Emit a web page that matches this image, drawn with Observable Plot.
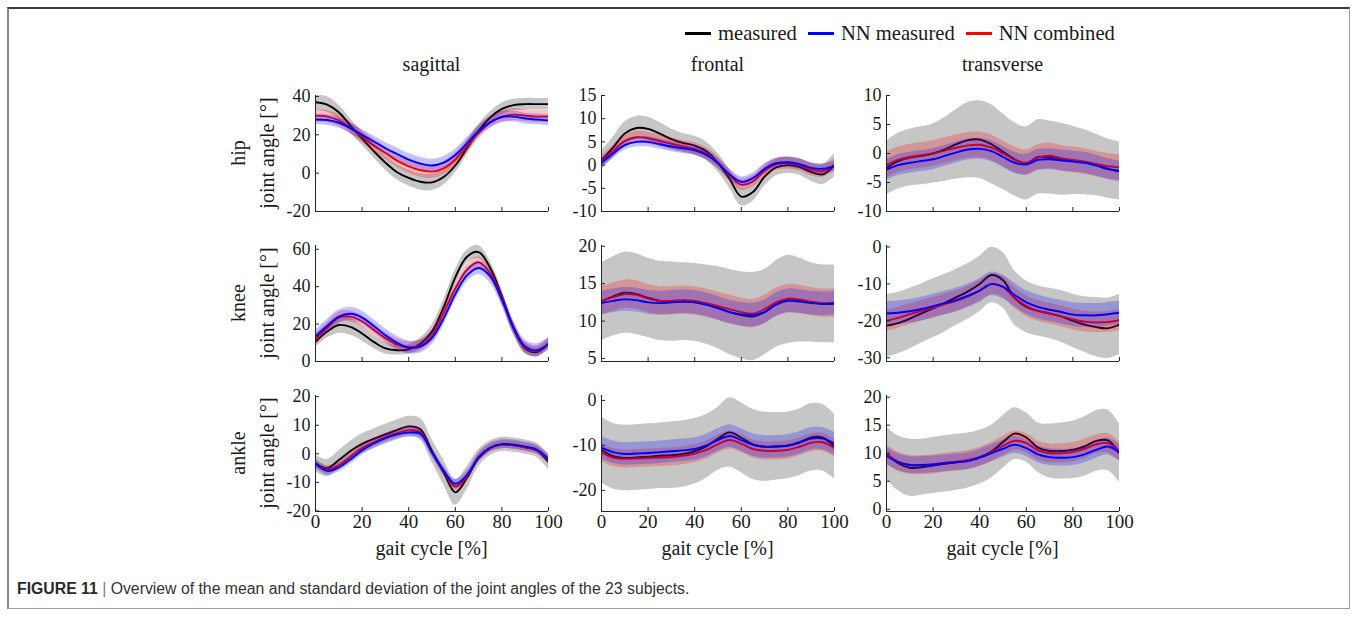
<!DOCTYPE html>
<html>
<head>
<meta charset="utf-8">
<script src="https://cdn.jsdelivr.net/npm/d3@7"></script>
<script src="https://cdn.jsdelivr.net/npm/@observablehq/plot@0.6"></script>
<style>
  body { margin: 0; background: #fff; }
  #fig { position: relative; width: 1358px; height: 625px; overflow: hidden; font-family: "Liberation Serif", serif; color: #1a1a1a; }
  .frame { position: absolute; left: 7px; top: 7px; width: 1343px; height: 602px; box-sizing: border-box;
           border: 1px solid #a0a0a0; border-left: 2px solid #8a8a8a; border-top: 2px solid #3a3a3a; }
  .lbl { position: absolute; font-size: 20px; white-space: nowrap; transform: translate(-50%, -50%); line-height: 1; }
  .rot { transform: translate(-50%, -50%) rotate(-90deg); }
  .panel { position: absolute; }
  .legend { position: absolute; top: 22px; left: 685px; height: 22px; display: flex; align-items: center; font-size: 20.6px; white-space: nowrap; }
  .legend .sw { display: inline-block; width: 26px; height: 3px; margin-right: 7px; }
  .legend .it { display: flex; align-items: center; margin-right: 11px; }
  .caption { position: absolute; left: 17px; top: 580px; font-family: "Liberation Sans", Arial, sans-serif; font-size: 15.8px; color: #333; white-space: nowrap; }
  .caption b { color: #2a2a2a; }
  .caption .bar { color: #777; }
</style>
</head>
<body>
<div id="fig">
  <div class="frame"></div>
</div>
<script>
// Gait cycle sample points [%]
const gaitCycle = [0, 5, 10, 15, 20, 25, 30, 35, 40, 45, 50, 55, 60, 65, 70, 75, 80, 85, 90, 95, 100];

const planes = ["sagittal", "frontal", "transverse"];
const joints = ["hip", "knee", "ankle"];
const seriesNames = ["measured", "NN measured", "NN combined"];
const seriesColors = ["#000000", "#0000ff", "#ff0000"];
const xTicks = [0, 20, 40, 60, 80, 100];

// Hip, sagittal
const hipSagMeasured     = [37, 35.8, 31.8, 24.8, 18, 11.5, 5.5, 0.5, -2.5, -4.5, -4.8, -2, 4, 13, 22, 29, 33.5, 35.5, 36, 36, 36];
const hipSagMeasuredSd   = [4, 4, 3.8, 3.6, 3.5, 3.5, 3.8, 4, 4.2, 4.3, 4.3, 4.2, 3.8, 3.5, 3.2, 3, 3, 3, 3, 3, 3];
const hipSagNNMeasured   = [28, 27.7, 26.3, 23.5, 20, 16.5, 13, 10, 7, 5, 4, 5.5, 9.5, 15.5, 22, 26.5, 29.3, 29.5, 28.5, 28, 27.5];
const hipSagNNMeasuredSd = [2.8, 2.8, 2.8, 2.8, 2.8, 2.9, 3, 3.1, 3.2, 3.3, 3.3, 3.2, 3, 2.9, 2.8, 2.8, 2.8, 2.8, 2.8, 2.8, 2.8];
const hipSagNNCombined   = [30, 29.5, 27.5, 23.5, 19, 14.5, 10.5, 6.5, 3.5, 1.5, 0.8, 2.5, 7, 14, 21, 26.5, 29.5, 30.5, 30, 29.5, 29.5];
const hipSagNNCombinedSd = [3.2, 3.2, 3.2, 3.2, 3.2, 3.3, 3.4, 3.5, 3.5, 3.6, 3.6, 3.5, 3.4, 3.3, 3.2, 3.2, 3.2, 3.2, 3.2, 3.2, 3.2];
const hipSagTicks = [-20, 0, 20, 40];

// Hip, frontal
const hipFroMeasured     = [1, 3.8, 6.8, 8, 7.8, 6.8, 5.6, 4.8, 4.2, 3, 0.5, -3, -6.8, -5.8, -2.5, -0.5, 0, -0.4, -1.5, -2, 0];
const hipFroMeasuredSd   = [2, 2.2, 2.5, 2.5, 2.5, 2.4, 2.2, 2, 2, 2, 2, 2, 2, 2, 2, 1.8, 1.8, 1.8, 2, 2.2, 2.5];
const hipFroNNMeasured   = [0.5, 2.5, 4.3, 5, 5, 4.5, 4, 3.6, 3.2, 2.2, 0.4, -2, -3.6, -2.8, -0.8, 0.4, 0.6, 0.2, -0.6, -0.8, -0.2];
const hipFroNNMeasuredSd = [1.1, 1.1, 1.1, 1.1, 1.1, 1.1, 1.1, 1.1, 1.1, 1.1, 1.1, 1.1, 1.1, 1.1, 1.1, 1.1, 1.1, 1.1, 1.1, 1.1, 1.1];
const hipFroNNCombined   = [0.8, 3, 5.2, 6, 5.8, 5.2, 4.6, 4, 3.5, 2.5, 0.5, -2.2, -4.2, -3.5, -1.2, 0.2, 0.4, 0, -1, -1.3, 0];
const hipFroNNCombinedSd = [1.3, 1.3, 1.3, 1.3, 1.3, 1.3, 1.3, 1.3, 1.3, 1.3, 1.3, 1.3, 1.3, 1.3, 1.3, 1.3, 1.3, 1.3, 1.3, 1.3, 1.3];
const hipFroTicks = [-10, -5, 0, 5, 10, 15];

// Hip, transverse
const hipTraMeasured     = [-2.5, -1.3, -0.7, -0.4, 0, 0.7, 1.6, 2.3, 2.4, 1.6, 0.3, -1, -1.7, -0.6, -0.7, -1, -1.2, -1.5, -2, -2.6, -3];
const hipTraMeasuredSd   = [4.6, 4.8, 4.9, 5, 5.1, 5.5, 6, 6.5, 6.7, 6.8, 6.5, 6.3, 6.3, 6.4, 6.3, 6.2, 5.9, 5.6, 5.3, 5.1, 5];
const hipTraNNMeasured   = [-2.8, -2, -1.6, -1.3, -1, -0.4, 0.2, 0.7, 0.8, 0.4, -0.6, -1.6, -1.9, -1.1, -1, -1.2, -1.4, -1.6, -2.1, -2.7, -3.1];
const hipTraNNMeasuredSd = [1.8, 1.8, 1.8, 1.8, 1.8, 1.8, 1.8, 1.8, 1.8, 1.8, 1.8, 1.8, 1.8, 1.8, 1.8, 1.8, 1.8, 1.8, 1.8, 1.8, 1.8];
const hipTraNNCombined   = [-2, -1.1, -0.6, -0.3, 0, 0.5, 1, 1.4, 1.5, 1, 0, -1.1, -1.6, -0.7, -0.4, -0.8, -1.1, -1.4, -1.8, -2.2, -2.4];
const hipTraNNCombinedSd = [2.2, 2.2, 2.2, 2.2, 2.2, 2.2, 2.2, 2.2, 2.2, 2.2, 2.2, 2.2, 2.2, 2.2, 2.2, 2.2, 2.2, 2.2, 2.2, 2.2, 2.2];
const hipTraTicks = [-10, -5, 0, 5, 10];

// Knee, sagittal
const kneeSagMeasured     = [10.5, 16, 19.5, 18.5, 15, 10.5, 7, 6, 6.5, 9.5, 16, 29, 45, 56, 58.5, 50, 35, 18, 7, 5, 9.5];
const kneeSagMeasuredSd   = [3, 3.5, 4.5, 4.5, 4, 3.5, 3, 2.5, 2.5, 3, 3.5, 4, 4, 3.5, 3.5, 3.5, 3.5, 3.5, 3, 2.5, 2.5];
const kneeSagNNMeasured   = [13.5, 19, 24, 25.5, 23.5, 19, 14, 10, 7.5, 8, 12.5, 23, 36, 46, 50, 45.5, 33, 18, 8, 6, 9.5];
const kneeSagNNMeasuredSd = [3.5, 3.5, 3.5, 3.5, 3.5, 3.5, 3.5, 3.5, 3.5, 3.5, 3.5, 3.5, 3.5, 3.5, 3.5, 3.5, 3.5, 3.5, 3.5, 3.5, 3.5];
const kneeSagNNCombined   = [12, 18, 23.5, 24, 21.5, 17, 12.5, 9, 7.5, 8.5, 14, 26, 39, 49, 53, 47, 34, 18, 7.5, 5.5, 9.5];
const kneeSagNNCombinedSd = [3, 3, 3, 3, 3, 3, 3, 3, 3, 3, 3, 3, 3, 3, 3, 3, 3, 3, 3, 3, 3];
const kneeSagTicks = [0, 20, 40, 60];

// Knee, frontal
const kneeFroMeasured     = [12.6, 13.3, 13.8, 13.6, 13.1, 12.7, 12.6, 12.6, 12.5, 12.2, 11.8, 11.2, 10.8, 10.6, 11.2, 12.3, 12.9, 12.8, 12.5, 12.3, 12.3];
const kneeFroMeasuredSd   = [5.2, 5.3, 5.4, 5.4, 5.3, 5.3, 5.3, 5.2, 5.2, 5.3, 5.5, 5.7, 5.8, 5.9, 5.7, 5.8, 5.9, 5.6, 5.3, 5.2, 5.2];
const kneeFroNNMeasured   = [12.4, 12.7, 12.9, 12.8, 12.5, 12.4, 12.5, 12.6, 12.5, 12.2, 11.7, 11.2, 10.9, 10.8, 11.2, 12.2, 12.7, 12.6, 12.4, 12.3, 12.4];
const kneeFroNNMeasuredSd = [1.6, 1.6, 1.6, 1.6, 1.6, 1.6, 1.6, 1.6, 1.6, 1.6, 1.6, 1.6, 1.6, 1.6, 1.6, 1.6, 1.6, 1.6, 1.6, 1.6, 1.6];
const kneeFroNNCombined   = [12.7, 13.2, 13.6, 13.5, 13, 12.7, 12.7, 12.8, 12.7, 12.4, 12, 11.6, 11.2, 11, 11.6, 12.5, 13, 12.9, 12.6, 12.4, 12.4];
const kneeFroNNCombinedSd = [1.9, 1.9, 1.9, 1.9, 1.9, 1.9, 1.9, 1.9, 1.9, 1.9, 1.9, 1.9, 1.9, 1.9, 1.9, 1.9, 1.9, 1.9, 1.9, 1.9, 1.9];
const kneeFroTicks = [5, 10, 15, 20];

// Knee, transverse
const kneeTraMeasured     = [-21.3, -20.6, -19.4, -18, -16.6, -15.2, -13.6, -12, -10, -7.6, -9, -13.8, -16.2, -17.3, -18, -18.8, -20, -21, -21.7, -22, -21];
const kneeTraMeasuredSd   = [8.5, 8.3, 8.2, 8, 8, 7.8, 7.6, 7.5, 7.5, 7.5, 7.5, 7.3, 7, 6.8, 6.8, 7, 7.2, 7.5, 8, 8.2, 8.2];
const kneeTraNNMeasured   = [-18, -17.8, -17.4, -16.8, -16, -15.2, -14.3, -13.2, -11.8, -10, -10.8, -13, -15, -16.2, -17, -17.6, -18.3, -18.5, -18.5, -18.2, -17.8];
const kneeTraNNMeasuredSd = [3.2, 3.2, 3.2, 3.2, 3.2, 3.2, 3.2, 3.2, 3.2, 3.2, 3.2, 3.2, 3.2, 3.2, 3.2, 3.2, 3.2, 3.2, 3.2, 3.2, 3.2];
const kneeTraNNCombined   = [-20, -19.2, -18.2, -17.3, -16.4, -15.5, -14.6, -13.4, -11.8, -10.1, -10.8, -13.8, -16, -17.3, -18, -18.8, -19.6, -20.2, -20.4, -20.3, -19.8];
const kneeTraNNCombinedSd = [2.8, 2.8, 2.8, 2.8, 2.8, 2.8, 2.8, 2.8, 2.8, 2.8, 2.8, 2.8, 2.8, 2.8, 2.8, 2.8, 2.8, 2.8, 2.8, 2.8, 2.8];
const kneeTraTicks = [-30, -20, -10, 0];

// Ankle, sagittal
const ankleSagMeasured     = [-3.3, -5, -2.2, 1, 3.5, 5.2, 6.8, 8.3, 9.6, 8.6, 1, -6.5, -13.5, -8.5, -1.5, 2, 3.3, 3, 2.3, 1.2, -2.8];
const ankleSagMeasuredSd   = [3, 3, 3.2, 3.4, 3.5, 3.5, 3.5, 3.5, 3.5, 3.8, 4, 4.3, 4.5, 4, 3, 2.6, 2.5, 2.5, 2.5, 2.5, 2.8];
const ankleSagNNMeasured   = [-3.5, -6, -4.8, -2, 1.2, 3.6, 5.5, 6.8, 7.4, 7, 0.5, -6, -10.5, -7.5, -1.2, 2.2, 3.4, 3.2, 2.5, 1.5, -1.8];
const ankleSagNNMeasuredSd = [1.6, 1.6, 1.6, 1.6, 1.6, 1.6, 1.6, 1.6, 1.6, 1.6, 1.6, 1.6, 1.6, 1.6, 1.6, 1.6, 1.6, 1.6, 1.6, 1.6, 1.6];
const ankleSagNNCombined   = [-3.5, -5.5, -4, -1, 2, 4, 5.8, 7.2, 8.2, 7.5, 0.5, -6, -11.5, -8, -1.5, 2, 3.2, 3, 2.3, 1.3, -2];
const ankleSagNNCombinedSd = [1.4, 1.4, 1.4, 1.4, 1.4, 1.4, 1.4, 1.4, 1.4, 1.4, 1.4, 1.4, 1.4, 1.4, 1.4, 1.4, 1.4, 1.4, 1.4, 1.4, 1.4];
const ankleSagTicks = [-20, -10, 0, 10, 20];

// Ankle, frontal
const ankleFroMeasured     = [-11, -12.4, -12.8, -12.7, -12.5, -12.3, -12.2, -11.9, -11.3, -10.2, -8.5, -7.1, -8.3, -9.8, -10.3, -10.2, -10, -9.3, -8.2, -8.3, -10.3];
const ankleFroMeasuredSd   = [7.3, 7.3, 7.3, 7.3, 7.3, 7.3, 7.4, 7.4, 7.3, 7.1, 7, 7.7, 7.8, 7.8, 7.7, 7.5, 7.4, 7.4, 7.5, 7.4, 7.2];
const ankleFroNNMeasured   = [-10.5, -11.5, -11.9, -11.8, -11.7, -11.5, -11.3, -11.1, -10.8, -10, -8.8, -7.9, -8.8, -9.9, -10.3, -10.3, -10.1, -9.4, -8.5, -8.5, -9.6];
const ankleFroNNMeasuredSd = [2.5, 2.5, 2.5, 2.5, 2.5, 2.5, 2.5, 2.5, 2.5, 2.5, 2.5, 2.5, 2.5, 2.5, 2.5, 2.5, 2.5, 2.5, 2.5, 2.5, 2.5];
const ankleFroNNCombined   = [-11.6, -12.7, -13, -12.9, -12.8, -12.7, -12.6, -12.3, -11.8, -11, -9.7, -8.8, -9.6, -10.8, -11.2, -11.2, -11, -10.3, -9.4, -9.3, -10.6];
const ankleFroNNCombinedSd = [2, 2, 2, 2, 2, 2, 2, 2, 2, 2, 2, 2, 2, 2, 2, 2, 2, 2, 2, 2, 2];
const ankleFroTicks = [-20, -10, 0];

// Ankle, transverse
const ankleTraMeasured     = [10, 8.2, 7.4, 7.5, 7.8, 8.1, 8.4, 8.7, 9.3, 10.3, 12, 13.5, 12.8, 11, 10.4, 10.4, 10.6, 11.2, 12.2, 12.3, 10];
const ankleTraMeasuredSd   = [4.7, 4.9, 5.1, 5, 5, 5, 5, 4.9, 4.8, 4.7, 4.7, 4.6, 4.4, 4.4, 4.8, 5, 5.1, 5.3, 5.4, 5.4, 5.2];
const ankleTraNNMeasured   = [9.5, 8.4, 7.9, 7.9, 8, 8.2, 8.4, 8.6, 9.2, 10, 10.8, 11.5, 10.9, 9.8, 9.3, 9.2, 9.3, 9.8, 10.6, 11.2, 10.1];
const ankleTraNNMeasuredSd = [1.5, 1.5, 1.5, 1.5, 1.5, 1.5, 1.5, 1.5, 1.5, 1.5, 1.5, 1.5, 1.5, 1.5, 1.5, 1.5, 1.5, 1.5, 1.5, 1.5, 1.5];
const ankleTraNNCombined   = [9.8, 8.5, 7.9, 7.9, 8, 8.3, 8.5, 8.8, 9.3, 10.2, 11.3, 12.2, 11.8, 10.5, 10, 10, 10.2, 10.8, 11.6, 11.8, 10.3];
const ankleTraNNCombinedSd = [1.7, 1.7, 1.7, 1.7, 1.7, 1.7, 1.7, 1.7, 1.7, 1.7, 1.7, 1.7, 1.7, 1.7, 1.7, 1.7, 1.7, 1.7, 1.7, 1.7, 1.7];
const ankleTraTicks = [0, 5, 10, 15, 20];

// Panel grid: [row, col, series (mean, sd) in draw order measured / NN combined / NN measured, y domain, y ticks]
const panelSpecs = [
  [0, 0, [[hipSagMeasured, hipSagMeasuredSd], [hipSagNNCombined, hipSagNNCombinedSd], [hipSagNNMeasured, hipSagNNMeasuredSd]], [-20, 40.5], hipSagTicks],
  [0, 1, [[hipFroMeasured, hipFroMeasuredSd], [hipFroNNCombined, hipFroNNCombinedSd], [hipFroNNMeasured, hipFroNNMeasuredSd]], [-10, 15], hipFroTicks],
  [0, 2, [[hipTraMeasured, hipTraMeasuredSd], [hipTraNNCombined, hipTraNNCombinedSd], [hipTraNNMeasured, hipTraNNMeasuredSd]], [-10, 10], hipTraTicks],
  [1, 0, [[kneeSagMeasured, kneeSagMeasuredSd], [kneeSagNNCombined, kneeSagNNCombinedSd], [kneeSagNNMeasured, kneeSagNNMeasuredSd]], [0, 62], kneeSagTicks],
  [1, 1, [[kneeFroMeasured, kneeFroMeasuredSd], [kneeFroNNCombined, kneeFroNNCombinedSd], [kneeFroNNMeasured, kneeFroNNMeasuredSd]], [4.6, 20.1], kneeFroTicks],
  [1, 2, [[kneeTraMeasured, kneeTraMeasuredSd], [kneeTraNNCombined, kneeTraNNCombinedSd], [kneeTraNNMeasured, kneeTraNNMeasuredSd]], [-31, 0.4], kneeTraTicks],
  [2, 0, [[ankleSagMeasured, ankleSagMeasuredSd], [ankleSagNNCombined, ankleSagNNCombinedSd], [ankleSagNNMeasured, ankleSagNNMeasuredSd]], [-20.2, 20.4], ankleSagTicks],
  [2, 1, [[ankleFroMeasured, ankleFroMeasuredSd], [ankleFroNNCombined, ankleFroNNCombinedSd], [ankleFroNNMeasured, ankleFroNNMeasuredSd]], [-24.7, 1.1], ankleFroTicks],
  [2, 2, [[ankleTraMeasured, ankleTraMeasuredSd], [ankleTraNNCombined, ankleTraNNCombinedSd], [ankleTraNNMeasured, ankleTraNNMeasuredSd]], [-0.4, 20.3], ankleTraTicks]
];

// Layout of the axes boxes (pixels)
const colLeft = [315, 601, 886];
const rowTop = [95, 245, 395];
const boxW = 233, boxH = 116;
const mL = 55, mR = 22, mT = 10, mB = 34;

// Band fill + line colour for each drawn series (measured, NN combined, NN measured)
const bandStyle = [
  {fill: "#c6c6c6", opacity: 1, stroke: seriesColors[0]},
  {fill: seriesColors[2], opacity: 0.24, stroke: seriesColors[2]},
  {fill: seriesColors[1], opacity: 0.24, stroke: seriesColors[1]}
];

const fig = document.getElementById("fig");
const axisColor = "#262626";

for (const [row, col, series, yDomain, yTicks] of panelSpecs) {
  const marks = [];
  series.forEach(([mean, sd], k) => {
    const rows = gaitCycle.map((g, i) => ({g, m: mean[i], lo: mean[i] - sd[i], hi: mean[i] + sd[i]}));
    const st = bandStyle[k];
    marks.push(Plot.areaY(rows, {x: "g", y1: "lo", y2: "hi", fill: st.fill, fillOpacity: st.opacity, curve: "catmull-rom", clip: true}));
    marks.push(Plot.line(rows, {x: "g", y: "m", stroke: st.stroke, strokeWidth: 1.9, curve: "catmull-rom", clip: true}));
  });
  // axis lines (box off: left and bottom only)
  marks.push(Plot.ruleX([0], {stroke: axisColor, strokeWidth: 1}));
  marks.push(Plot.ruleY([yDomain[0]], {stroke: axisColor, strokeWidth: 1}));
  // inward tick marks
  marks.push(Plot.tickY(yTicks, {y: d => d, stroke: axisColor, insetRight: boxW - 4}));
  marks.push(Plot.tickX(xTicks, {x: d => d, stroke: axisColor, insetTop: boxH - 4}));
  marks.push(Plot.axisY({ticks: yTicks, tickSize: 0, tickPadding: 5, tickFormat: d => String(d), label: null, fontSize: 18}));
  if (row === 2) {
    marks.push(Plot.axisX({ticks: xTicks, tickSize: 0, tickPadding: 3, tickFormat: d => String(d), label: null, fontSize: 19}));
  }

  const svg = Plot.plot({
    width: mL + boxW + mR,
    height: mT + boxH + mB,
    marginLeft: mL, marginRight: mR, marginTop: mT, marginBottom: mB,
    style: {background: "transparent", fontFamily: "'Liberation Serif', serif", color: "#1a1a1a", overflow: "visible"},
    x: {domain: [0, 100], axis: row === 2 ? undefined : null, label: null},
    y: {domain: yDomain, label: null},
    marks
  });
  const holder = document.createElement("div");
  holder.className = "panel";
  holder.style.left = (colLeft[col] - mL) + "px";
  holder.style.top = (rowTop[row] - mT) + "px";
  holder.style.width = (mL + boxW + mR) + "px";
  holder.appendChild(svg);
  fig.appendChild(holder);
}

function addLabel(text, x, y, rotate) {
  const d = document.createElement("div");
  d.className = "lbl" + (rotate ? " rot" : "");
  d.style.left = x + "px";
  d.style.top = y + "px";
  d.textContent = text;
  fig.appendChild(d);
}

// column titles
planes.forEach((p, c) => addLabel(p, colLeft[c] + boxW / 2, 64));
// row labels
joints.forEach((j, r) => {
  addLabel(j, 238, rowTop[r] + boxH / 2, true);
  addLabel("joint angle [°]", 267, rowTop[r] + boxH / 2, true);
});
// x titles under the bottom row
planes.forEach((p, c) => addLabel("gait cycle [%]", colLeft[c] + boxW / 2, 548));

// legend
const legend = document.createElement("div");
legend.className = "legend";
seriesNames.forEach((name, i) => {
  const it = document.createElement("span");
  it.className = "it";
  const sw = document.createElement("span");
  sw.className = "sw";
  sw.style.background = seriesColors[i];
  it.appendChild(sw);
  it.appendChild(document.createTextNode(name));
  legend.appendChild(it);
});
fig.appendChild(legend);

// caption
const cap = document.createElement("div");
cap.className = "caption";
cap.innerHTML = "<b>FIGURE 11</b> <span class=\"bar\">|</span> Overview of the mean and standard deviation of the joint angles of the 23 subjects.";
fig.appendChild(cap);
</script>
</body>
</html>
